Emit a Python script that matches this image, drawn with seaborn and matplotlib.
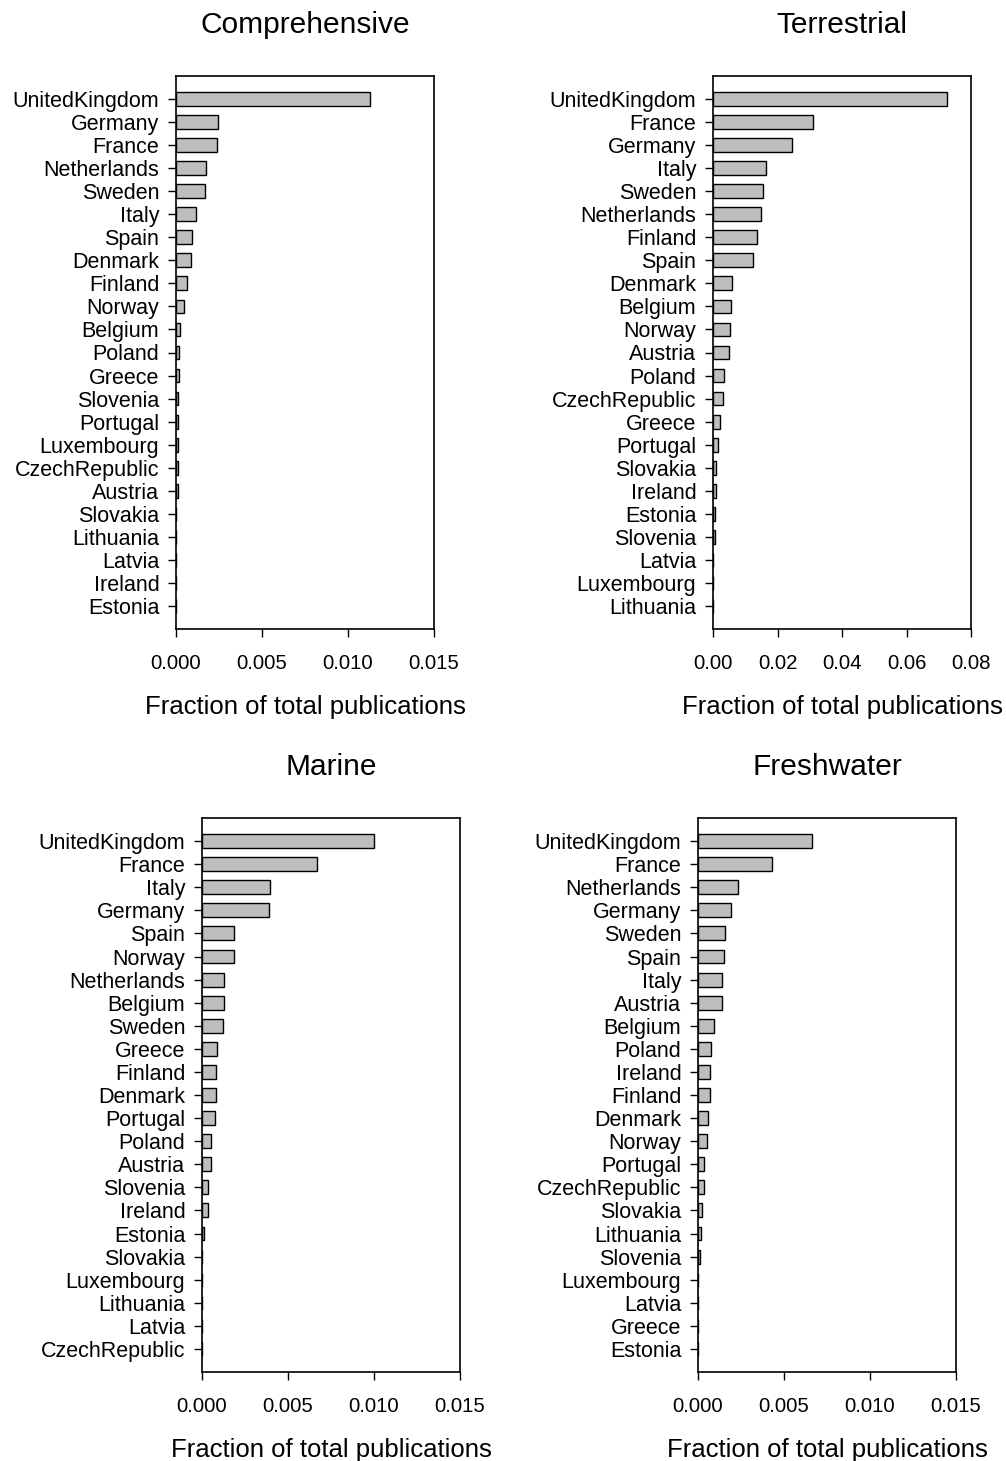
import matplotlib
matplotlib.use("Agg")
import matplotlib.pyplot as plt
import seaborn as sns
import pandas as pd

sns.set_theme(style="white")
plt.rcParams["font.family"] = ["Liberation Sans", "DejaVu Sans"]
plt.rcParams.update({"text.color": "black", "axes.labelcolor": "black",
                     "xtick.color": "black", "ytick.color": "black"})

# Fraction of total publications per country, one panel per realm
comp_countries = ["UnitedKingdom", "Germany", "France", "Netherlands", "Sweden", "Italy",
                  "Spain", "Denmark", "Finland", "Norway", "Belgium", "Poland", "Greece",
                  "Slovenia", "Portugal", "Luxembourg", "CzechRepublic", "Austria",
                  "Slovakia", "Lithuania", "Latvia", "Ireland", "Estonia"]
comp_values = [0.01125, 0.00243, 0.00237, 0.00174, 0.00168, 0.00116, 0.00094, 0.00085,
               0.00062, 0.00047, 0.00025, 0.00017, 0.00017, 0.00012, 0.00012, 0.00012,
               0.00010, 0.00010, 0.0, 0.0, 0.0, 0.0, 0.0]

terr_countries = ["UnitedKingdom", "France", "Germany", "Italy", "Sweden", "Netherlands",
                  "Finland", "Spain", "Denmark", "Belgium", "Norway", "Austria", "Poland",
                  "CzechRepublic", "Greece", "Portugal", "Slovakia", "Ireland", "Estonia",
                  "Slovenia", "Latvia", "Luxembourg", "Lithuania"]
terr_values = [0.0725, 0.0310, 0.0244, 0.0164, 0.0154, 0.0150, 0.0137, 0.0123, 0.0058,
               0.0055, 0.0052, 0.0050, 0.0034, 0.0031, 0.0021, 0.0014, 0.0009, 0.0008,
               0.0006, 0.0005, 0.0, 0.0, 0.0]

mar_countries = ["UnitedKingdom", "France", "Italy", "Germany", "Spain", "Norway",
                 "Netherlands", "Belgium", "Sweden", "Greece", "Finland", "Denmark",
                 "Portugal", "Poland", "Austria", "Slovenia", "Ireland", "Estonia",
                 "Slovakia", "Luxembourg", "Lithuania", "Latvia", "CzechRepublic"]
mar_values = [0.00998, 0.00668, 0.00396, 0.00390, 0.00186, 0.00186, 0.00126, 0.00128,
              0.00120, 0.00090, 0.00082, 0.00082, 0.00074, 0.00052, 0.00052, 0.00035,
              0.00035, 0.00010, 0.0, 0.0, 0.0, 0.0, 0.0]

fresh_countries = ["UnitedKingdom", "France", "Netherlands", "Germany", "Sweden", "Spain",
                   "Italy", "Austria", "Belgium", "Poland", "Ireland", "Finland", "Denmark",
                   "Norway", "Portugal", "CzechRepublic", "Slovakia", "Lithuania",
                   "Slovenia", "Luxembourg", "Latvia", "Greece", "Estonia"]
fresh_values = [0.00660, 0.00429, 0.00233, 0.00194, 0.00157, 0.00151, 0.00142, 0.00142,
                0.00091, 0.00076, 0.00068, 0.00068, 0.00060, 0.00052, 0.00037, 0.00037,
                0.00023, 0.00017, 0.00012, 0.0, 0.0, 0.0, 0.0]

panels = [
    ("Comprehensive", comp_countries, comp_values, 0.015, [0.0, 0.005, 0.010, 0.015], "{:.3f}"),
    ("Terrestrial", terr_countries, terr_values, 0.08, [0.0, 0.02, 0.04, 0.06, 0.08], "{:.2f}"),
    ("Marine", mar_countries, mar_values, 0.015, [0.0, 0.005, 0.010, 0.015], "{:.3f}"),
    ("Freshwater", fresh_countries, fresh_values, 0.015, [0.0, 0.005, 0.010, 0.015], "{:.3f}"),
]

W, H = 1006, 1461
fig = plt.figure(figsize=(W / 100, H / 100), dpi=100)

# axes boxes in pixels: left, top, right, bottom
boxes = [(176, 76, 434, 629), (713, 76, 971, 629),
         (202, 818, 460, 1372), (698, 818, 956, 1372)]

for (title, countries, values, xmax, ticks, fmt), (l, t, r, b) in zip(panels, boxes):
    ax = fig.add_axes([l / W, 1 - b / H, (r - l) / W, (b - t) / H])
    df = pd.DataFrame({"country": countries, "fraction": values})
    sns.barplot(data=df, x="fraction", y="country", ax=ax, orient="h",
                color="#BEBEBE", saturation=1, edgecolor="black", linewidth=1.0,
                width=0.6)
    ax.set_xlim(0, xmax)
    ax.set_ylim(len(countries), -1)
    ax.set_xticks(ticks)
    ax.set_xticklabels([fmt.format(v) for v in ticks])
    ax.set_ylabel("")
    ax.set_xlabel("Fraction of total publications", fontsize=18.5, labelpad=16)
    ax.set_title(title, fontsize=21.5, pad=31)
    ax.tick_params(axis="y", which="major", left=True, length=6, width=1.0,
                   direction="out", pad=6, labelsize=15.5, color="black",
                   labelcolor="black")
    ax.tick_params(axis="x", which="major", bottom=True, length=6, width=1.0,
                   direction="out", pad=12, labelsize=14.7, color="black",
                   labelcolor="black")
    for s in ax.spines.values():
        s.set_visible(True)
        s.set_color("black")
        s.set_linewidth(1.2)
    ax.grid(False)

fig.savefig("out.png", dpi=100, facecolor="white")
